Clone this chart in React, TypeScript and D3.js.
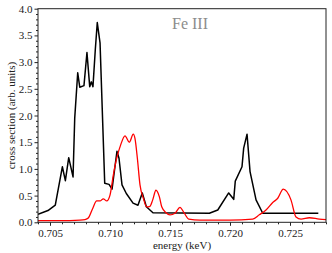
import React, { useEffect, useRef } from 'react';
import * as d3 from 'd3';

// black curve: energy (keV) / cross section
const blackE = [0.704, 0.70483, 0.70544, 0.70603, 0.70628, 0.70656, 0.70692, 0.70706, 0.70731, 0.70748, 0.70783,
  0.70808, 0.70831, 0.70844, 0.70858, 0.70878, 0.70894, 0.70917, 0.70956, 0.70992, 0.71017, 0.71058, 0.71075,
  0.711, 0.71136, 0.71192, 0.71233, 0.71269, 0.71303, 0.71358, 0.71828, 0.71898, 0.71989, 0.72031, 0.72044,
  0.721, 0.72114, 0.72142, 0.72167, 0.72217, 0.72273, 0.72736];
const blackV = [0.15, 0.22, 0.32, 1.04, 0.78, 1.21, 0.85, 1.95, 2.80, 2.53, 2.56,
  3.18, 2.54, 2.63, 2.54, 3.25, 3.74, 3.36, 0.73, 0.71, 0.62, 1.33, 1.2,
  0.70, 0.54, 0.36, 0.32, 0.55, 0.29, 0.18, 0.17, 0.23, 0.55, 0.43, 0.77,
  1.04, 1.39, 1.65, 0.95, 0.42, 0.17, 0.17];

// red curve
const redE = [0.704, 0.70583, 0.7075, 0.70792, 0.70819, 0.70856, 0.70889, 0.70917, 0.70944, 0.70973, 0.71,
  0.71028, 0.71056, 0.71089, 0.71125, 0.71161, 0.71194, 0.71208, 0.71228, 0.7125, 0.71278, 0.71306, 0.71333,
  0.71356, 0.71383, 0.71411, 0.71431, 0.71467, 0.715, 0.71542, 0.71583, 0.71619, 0.71656, 0.7175, 0.72,
  0.72189, 0.72244, 0.723, 0.72356, 0.72398, 0.72444, 0.72508, 0.7255, 0.72592, 0.72661, 0.72744, 0.728];
const redV = [0.03, 0.03, 0.04, 0.05, 0.08, 0.26, 0.40, 0.40, 0.44, 0.40, 0.51,
  0.89, 1.20, 1.45, 1.62, 1.50, 1.65, 1.57, 1.20, 0.70, 0.45, 0.29, 0.30,
  0.42, 0.60, 0.48, 0.29, 0.18, 0.14, 0.17, 0.28, 0.17, 0.06, 0.04, 0.04,
  0.06, 0.14, 0.23, 0.37, 0.45, 0.62, 0.42, 0.10, 0.06, 0.085, 0.06, 0.05];

const xTicks = [0.705, 0.71, 0.715, 0.72, 0.725];
const yTicks = [0, 0.5, 1, 1.5, 2, 2.5, 3, 3.5, 4];
const title = 'Fe III';

const App = () => {
  const ref = useRef<SVGSVGElement>(null);

  useEffect(() => {
    const svg = d3.select(ref.current);
    svg.selectAll('*').remove();

    const left = 38, right = 326, top = 8.7, bottom = 222.3;
    const x = d3.scaleLinear().domain([0.704, 0.728]).range([left, right]);
    const y = d3.scaleLinear().domain([0, 4]).range([bottom, top]);
    const font = "'Liberation Serif', 'Times New Roman', serif";

    svg.append('defs').append('clipPath').attr('id', 'plot')
      .append('rect').attr('x', left).attr('y', top).attr('width', right - left).attr('height', bottom - top);

    const g = svg.append('g').attr('clip-path', 'url(#plot)');
    const line = d3.line<[number, number]>().x(d => x(d[0])).y(d => y(d[1]));

    g.append('path')
      .datum(blackE.map((e, i) => [e, blackV[i]] as [number, number]))
      .attr('d', line)
      .attr('fill', 'none').attr('stroke', 'black').attr('stroke-width', 1.5).attr('stroke-linejoin', 'round');

    g.append('path')
      .datum(redE.map((e, i) => [e, redV[i]] as [number, number]))
      .attr('d', line.curve(d3.curveMonotoneX))
      .attr('fill', 'none').attr('stroke', '#ff0000').attr('stroke-width', 1.3);

    // minor ticks
    const xMinor = d3.range(0.704, 0.7281, 0.001).filter(v => !xTicks.some(t => Math.abs(t - v) < 1e-6));
    const yMinor = d3.range(0, 4.001, 0.1).filter(v => !yTicks.some(t => Math.abs(t - v) < 1e-6));

    svg.append('g').attr('transform', `translate(0,${bottom})`)
      .call(d3.axisBottom(x).tickValues(xMinor).tickSize(2).tickSizeOuter(0).tickFormat(() => ''))
      .call(a => a.select('.domain').remove());
    svg.append('g').attr('transform', `translate(${left},0)`)
      .call(d3.axisLeft(y).tickValues(yMinor).tickSize(2).tickSizeOuter(0).tickFormat(() => ''))
      .call(a => a.select('.domain').remove());

    const xa = svg.append('g').attr('transform', `translate(0,${bottom})`)
      .call(d3.axisBottom(x).tickValues(xTicks).tickSize(3.5).tickSizeOuter(0).tickPadding(3).tickFormat(d3.format('.3f')));
    xa.select('.domain').remove();
    xa.attr('font-family', null);
    xa.selectAll('text').style('font-family', font).style('font-size', '11px').attr('fill', '#222');

    const ya = svg.append('g').attr('transform', `translate(${left},0)`)
      .call(d3.axisLeft(y).tickValues(yTicks).tickSize(3.5).tickSizeOuter(0).tickPadding(2).tickFormat(d3.format('.1f')));
    ya.select('.domain').remove();
    ya.attr('font-family', null);
    ya.selectAll('text').style('font-family', font).style('font-size', '11px').attr('fill', '#222');

    svg.selectAll('.tick line').attr('stroke', '#222');

    // frame
    svg.append('rect')
      .attr('x', left).attr('y', top).attr('width', right - left).attr('height', bottom - top)
      .attr('fill', 'none').attr('stroke', '#222').attr('stroke-width', 1);

    svg.append('text')
      .attr('x', (left + right) / 2).attr('y', 249)
      .attr('text-anchor', 'middle').style('font-family', font).style('font-size', '11px').attr('fill', '#222')
      .text('energy (keV)');

    svg.append('text')
      .attr('transform', `translate(11,${(top + bottom) / 2}) rotate(-90)`)
      .attr('text-anchor', 'middle').attr('dominant-baseline', 'central')
      .style('font-family', font).style('font-size', '11px').attr('fill', '#222')
      .text('cross section (arb. units)');

    svg.append('text')
      .attr('x', 190).attr('y', 29)
      .attr('text-anchor', 'middle').style('font-family', font).style('font-size', '16px').attr('fill', '#8c8c8c')
      .text(title);
  }, []);

  return (
    <svg ref={ref} width={332} height={253}
      style={{ position: 'absolute', left: 0, top: 0, display: 'block', background: 'white' }} />
  );
};

export default App;
